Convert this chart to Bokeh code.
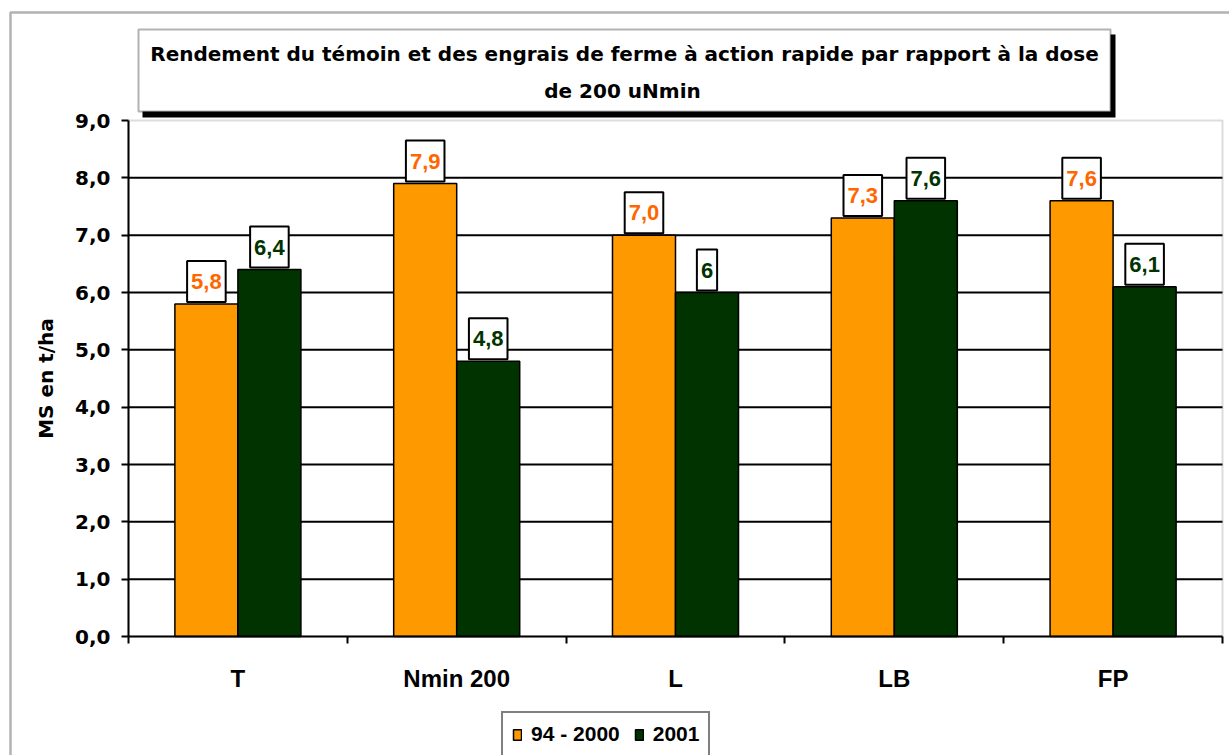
from bokeh.plotting import figure
from bokeh.models import (Range1d, FixedTicker, BoxAnnotation, Label, Legend, LegendItem,
                          ColumnDataSource, CustomJSTickFormatter)
from bokeh.transform import dodge
from bokeh.core.properties import value
from bokeh.embed import file_html
from bokeh.resources import INLINE

# ---------------- data ----------------
categories = ["T", "Nmin 200", "L", "LB", "FP"]
series_names = ["94 - 2000", "2001"]
values_94_2000 = [5.8, 7.9, 7.0, 7.3, 7.6]
values_2001 = [6.4, 4.8, 6.0, 7.6, 6.1]
labels_94_2000 = ["5,8", "7,9", "7,0", "7,3", "7,6"]
labels_2001 = ["6,4", "4,8", "6", "7,6", "6,1"]
y_ticks = [0, 1, 2, 3, 4, 5, 6, 7, 8, 9]
y_tick_labels = ["0,0", "1,0", "2,0", "3,0", "4,0", "5,0", "6,0", "7,0", "8,0", "9,0"]
title_lines = ["Rendement du témoin et des engrais de ferme à action rapide par rapport à la dose",
               "de 200 uNmin"]
y_axis_title = "MS en t/ha"

# ---------------- style / layout ----------------
ORANGE = "#FF9900"
GREEN = "#003300"
ORANGE_TXT = "#FF6600"
BAR_W = 0.288
OFF = 0.144

W, H = 1229, 755                      # canvas
PL, PR, PT, PB = 128, 1222, 120, 636  # plot area in canvas pixels

n = len(categories)
ymin, ymax = y_ticks[0], y_ticks[-1]
centers = [i + 0.5 for i in range(n)]
bounds = list(range(n + 1))

xs = (PR - PL) / n
ys = (PB - PT) / (ymax - ymin)
x_range = Range1d(-PL / xs, n + (W - PR) / xs)
y_range = Range1d(ymin - (H - PB) / ys, ymax + PT / ys)

p = figure(width=W, height=H, x_range=x_range, y_range=y_range,
           output_backend="svg", toolbar_location=None,
           min_border=0, min_border_left=0, min_border_right=0, min_border_top=0, min_border_bottom=0)
p.title.text = ""
p.title.visible = False
p.background_fill_color = "white"
p.border_fill_color = "white"
p.outline_line_color = None

# x axis (drawn at y = 0 inside the frame)
p.xaxis.fixed_location = ymin
p.xaxis.bounds = (0, n)
p.xaxis.ticker = FixedTicker(ticks=centers, minor_ticks=bounds)
p.xaxis.formatter = CustomJSTickFormatter(args=dict(cats=categories),
                                          code="const i = Math.floor(tick); return (i >= 0 && i < cats.length) ? cats[i] : '';")
p.xaxis.major_tick_line_color = None
p.xaxis.major_tick_out = 0
p.xaxis.major_tick_in = 0
p.xaxis.minor_tick_out = 7
p.xaxis.minor_tick_in = 0
p.xaxis.minor_tick_line_color = "black"
p.xaxis.minor_tick_line_width = 2
p.xaxis.axis_line_color = "black"
p.xaxis.axis_line_width = 2
p.xaxis.major_label_standoff = 21
p.xaxis.major_label_text_font = "Liberation Sans"
p.xaxis.major_label_text_font_size = "24px"
p.xaxis.major_label_text_font_style = "bold"
p.xaxis.major_label_text_color = "black"

# y axis (drawn at x = 0 inside the frame)
p.yaxis.fixed_location = 0
p.yaxis.bounds = (ymin, ymax)
p.yaxis.ticker = FixedTicker(ticks=y_ticks)
p.yaxis.major_label_overrides = {t: s for t, s in zip(y_ticks, y_tick_labels)}
p.yaxis.major_tick_out = 7
p.yaxis.major_tick_in = 0
p.yaxis.major_tick_line_color = "black"
p.yaxis.major_tick_line_width = 2
p.yaxis.minor_tick_line_color = None
p.yaxis.axis_line_color = "black"
p.yaxis.axis_line_width = 2
p.yaxis.major_label_standoff = 11
p.yaxis.major_label_text_font = "DejaVu Sans"
p.yaxis.major_label_text_font_size = "20px"
p.yaxis.major_label_text_font_style = "bold"
p.yaxis.major_label_text_color = "black"
p.yaxis.axis_label = y_axis_title
p.yaxis.axis_label_text_font = "DejaVu Sans"
p.yaxis.axis_label_text_font_size = "20px"
p.yaxis.axis_label_text_font_style = "bold"
p.yaxis.axis_label_text_color = "black"
p.yaxis.axis_label_standoff = 14

p.xgrid.visible = False
p.ygrid.visible = False

# plot-area border (grey top / right)
p.add_layout(BoxAnnotation(left=0, right=n, bottom=ymin, top=ymax, level="underlay",
                           fill_alpha=0, line_color="#8c8c8c", line_width=2))

# horizontal grid lines at the inner y ticks
grid_ticks = y_ticks[1:-1]
p.segment(x0=[0] * len(grid_ticks), x1=[n] * len(grid_ticks), y0=grid_ticks, y1=grid_ticks,
          line_color="black", line_width=2)

src = ColumnDataSource(dict(x=centers, v1=values_94_2000, v2=values_2001,
                            l1=labels_94_2000, l2=labels_2001))

r1 = p.vbar(x=dodge("x", -OFF), top="v1", width=BAR_W, source=src,
            fill_color=ORANGE, line_color="black", line_width=1.5)
r2 = p.vbar(x=dodge("x", OFF), top="v2", width=BAR_W, source=src,
            fill_color=GREEN, line_color="black", line_width=1.5)

for key, vkey, dx, col in (("l1", "v1", -OFF, ORANGE_TXT), ("l2", "v2", OFF, GREEN)):
    p.text(x=dodge("x", dx), y=vkey, text=key, source=src,
           text_font=value("Liberation Sans"), text_font_size=value("22px"),
           text_font_style="bold", text_color=col,
           text_align="center", text_baseline="bottom",
           background_fill_color="white", border_line_color="black", border_line_width=2,
           padding=(4, 13), y_offset=-2)

# outer chart border
p.add_layout(BoxAnnotation(left=10, right=W + 20, top=H - 12, bottom=-20,
                           left_units="screen", right_units="screen", top_units="screen", bottom_units="screen",
                           fill_alpha=0, line_color="black", line_width=2.5))
# title shadow + box
p.add_layout(BoxAnnotation(left=142, right=1115, top=H - 34, bottom=H - 117,
                           left_units="screen", right_units="screen", top_units="screen", bottom_units="screen",
                           fill_color="black", fill_alpha=1, line_alpha=0))
p.add_layout(BoxAnnotation(left=138, right=1110, top=H - 29, bottom=H - 111,
                           left_units="screen", right_units="screen", top_units="screen", bottom_units="screen",
                           fill_color="white", fill_alpha=1, line_color="black", line_width=2))
p.add_layout(Label(x=624, y=H - 53, x_units="screen", y_units="screen", text=title_lines[0],
                   text_align="center", text_baseline="middle", text_font="DejaVu Sans",
                   text_font_size="20px", text_font_style="bold", text_color="black"))
p.add_layout(Label(x=622, y=H - 90, x_units="screen", y_units="screen", text=title_lines[1],
                   text_align="center", text_baseline="middle", text_font="DejaVu Sans",
                   text_font_size="20px", text_font_style="bold", text_color="black"))

legend = Legend(items=[LegendItem(label=series_names[0], renderers=[r1]),
                       LegendItem(label=series_names[1], renderers=[r2])],
                orientation="horizontal", location=(501, -2),
                border_line_color="black", border_line_width=2, background_fill_color="white",
                background_fill_alpha=1,
                label_text_font="Liberation Sans", label_text_font_size="21px",
                label_text_font_style="bold", label_text_color="black",
                glyph_width=10, glyph_height=13, label_standoff=9, spacing=14, padding=9, margin=0)
p.add_layout(legend, "center")

open("out.html", "w").write(file_html(p, INLINE))
